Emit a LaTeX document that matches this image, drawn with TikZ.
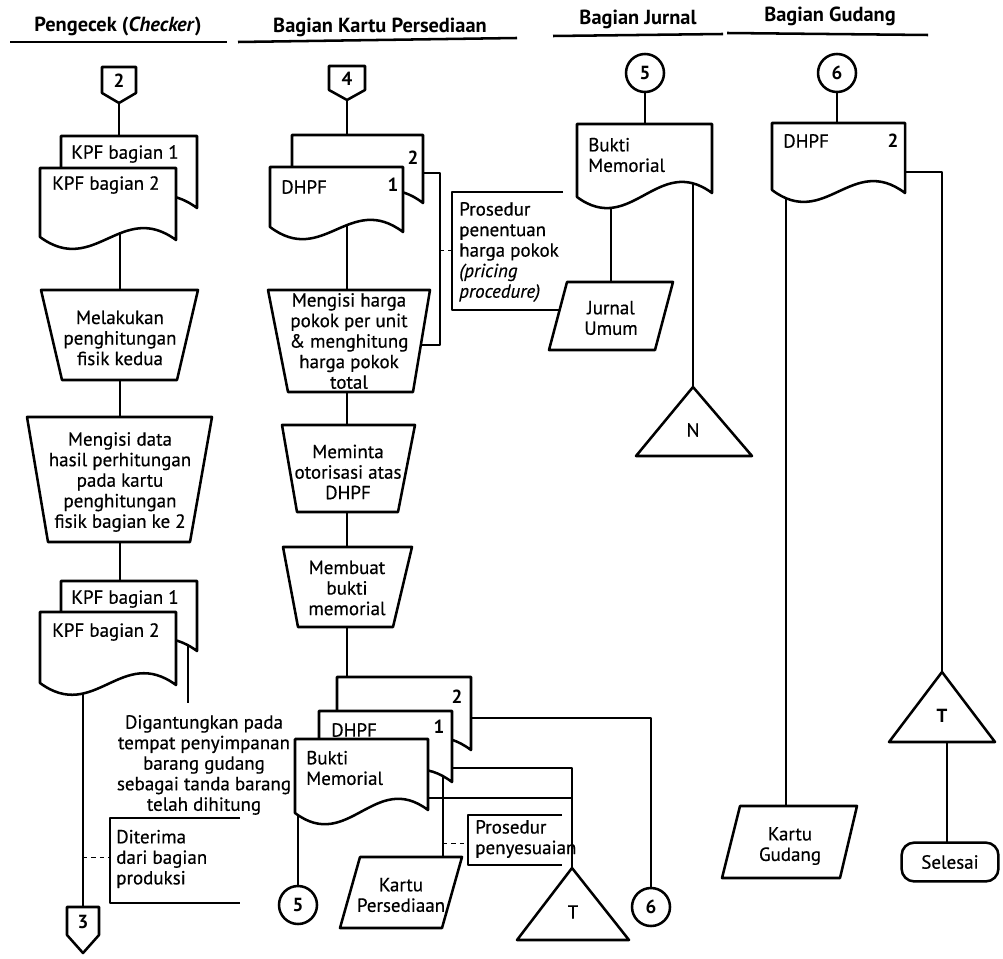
\documentclass[tikz,border=0pt]{standalone}
\usepackage{fontspec}
\setmainfont{PT Sans}[UprightFeatures={FakeBold=0.5},ItalicFeatures={FakeBold=0.5}]
\usetikzlibrary{calc}
% document symbol: #1 x-left, #2 x-right, #3 top, #4 bottom-left y, #5 bottom-right y
\newcommand\docshape[5]{%
  \draw[shp] (#1,#3) -- (#2,#3) -- (#2,#5)
    .. controls ({#1+0.6*(#2-#1)},{#5-40}) and ({#1+0.4*(#2-#1)},{#4+40}) .. (#1,#4) -- cycle;}
% manual operation (trapezoid): top x1,x2,y ; bottom x1,x2,y
\newcommand\trapshape[6]{%
  \draw[shp] (#1,#3) -- (#2,#3) -- (#5,#6) -- (#4,#6) -- cycle;}
\begin{document}
\begin{tikzpicture}[x=0.025cm,y=-0.025cm,line width=1.8pt,line join=round,
  shp/.style={draw,fill=white},
  txt/.style={font=\fontsize{13.5}{14.6}\selectfont,align=center,inner sep=0pt},
  ltxt/.style={txt,align=left,anchor=west},
  btxt/.style={txt,font=\fontsize{13.5}{14.6}\selectfont\bfseries},
  hdr/.style={font=\fontsize{14.5}{15}\selectfont\bfseries,inner sep=0pt},
  circ/.style={draw,circle,fill=white,minimum size=0.95cm,inner sep=0pt,
               font=\fontsize{13.5}{15}\selectfont\bfseries},
  term/.style={draw,fill=white,rounded corners=9pt,minimum width=2.42cm,
               minimum height=0.97cm,inner sep=0pt,font=\fontsize{13.5}{15}\selectfont},
  ann/.style={line width=1.4pt},
  dsh/.style={line width=0.7pt,dashed}]
\useasboundingbox (0,0) rectangle (1003,958);

% ---------------- headers ----------------
\node[hdr] (h1) at (118,26) {Pengecek (\textit{Checker})};
\node[hdr] (h2) at (380,27) {Bagian Kartu Persediaan};
\node[hdr] (h3) at (638,19) {Bagian Jurnal};
\node[hdr] (h4) at (830,16) {Bagian Gudang};
\draw (10,42) -- (227,42);
\draw (238,42) -- (517,38);
\draw (553,36) -- (723,34);
\draw (727,33) -- (928,35);

% ---------------- connectors (drawn first, shapes cover their ends) -------------
% column 1
\draw (119,100) -- (119,150);
\draw (120,230) -- (120,300);
\draw (120,370) -- (120,425);
\draw (120,535) -- (120,590);
\draw (188,640) -- (188,703);
\draw (83,680) -- (83,912);
\draw[dsh] (83,857) -- (110,857);
\draw[ann] (240,818) -- (110,818) -- (110,903) -- (240,903);
% column 2
\draw (347,98) -- (347,145);
\draw (347,220) -- (347,300);
\draw (410,173) -- (440,173) -- (440,345) -- (415,345);
\draw[dsh] (440,250) -- (452,250);
\draw[ann] (563,192) -- (452,192) -- (452,310) -- (566,310);
\draw (347,385) -- (347,432);
\draw (347,505) -- (347,555);
\draw (347,620) -- (347,690);
\draw (460,718) -- (651,718) -- (651,900);
\draw (445,768) -- (572,768) -- (572,880);
\draw (420,798) -- (572,798);
\draw (298,800) -- (298,895);
\draw (443,765) -- (443,865);
\draw[dsh] (443,843) -- (468,843);
\draw[ann] (562,815) -- (468,815) -- (468,865) -- (562,865);
% column 3
\draw (645,85) -- (645,135);
\draw (611,190) -- (611,290);
\draw (693,175) -- (693,395);
% column 4
\draw (837,85) -- (837,135);
\draw (786,185) -- (786,815);
\draw (895,172) -- (942,172) -- (942,680);
\draw (947,735) -- (947,850);

% ---------------- column 1 shapes ----------------
\draw[shp] (102,67) -- (136,67) -- (136,93) -- (119,103) -- (102,93) -- cycle;
\node[btxt] (op2) at (119,81) {2};
\docshape{61}{197}{136}{200}{208}
\docshape{40}{176}{168}{237}{240}
\node[txt] (kpf1a) at (125,154) {KPF bagian 1};
\node[ltxt] (kpf2a) at (51,185) {KPF bagian 2};
\trapshape{41}{198}{290}{62}{177}{380}
\node[txt] (hit) at (120,338) {Melakukan\\penghitungan\\fisik kedua};
\trapshape{27}{212}{417}{48}{190}{542}
\node[txt] (isi) at (120,482) {Mengisi data\\hasil perhitungan\\pada kartu\\penghitungan\\fisik bagian ke 2};
\docshape{61}{197}{581}{645}{651}
\docshape{40}{176}{612}{683}{685}
\node[txt] (kpf1b) at (125,599) {KPF bagian 1};
\node[ltxt] (kpf2b) at (51,632) {KPF bagian 2};
\node[txt] (gant) at (204,765) {Digantungkan pada\\tempat penyimpanan\\barang gudang\\sebagai tanda barang\\telah dihitung};
\node[ltxt] (dit) at (115,859) {Diterima\\dari bagian\\produksi};
\draw[shp] (67,907) -- (99,907) -- (99,935) -- (83,953) -- (67,935) -- cycle;
\node[btxt] (op3) at (83,922) {3};

% ---------------- column 2 shapes ----------------
\draw[shp] (329,66) -- (365,66) -- (365,90) -- (347,100) -- (329,90) -- cycle;
\node[btxt] (op4) at (347,79) {4};
\docshape{292}{423}{135}{195}{203}
\docshape{270}{403}{167}{227}{232}
\node[btxt] (d2n) at (413,158) {2};
\node[ltxt] (d1a) at (280,187) {DHPF};
\node[btxt] (d1n) at (393,185) {1};
\node[ltxt] (pric) at (458,252) {Prosedur\\penentuan\\harga pokok\\\textit{(pricing}\\\textit{procedure)}};
\trapshape{268}{430}{290}{288}{413}{392}
\node[txt] (isih) at (349,341) {Mengisi harga\\pokok per unit\\\& menghitung\\harga pokok\\total};
\trapshape{282}{415}{425}{297}{398}{512}
\node[txt] (oto) at (348,472) {Meminta\\otorisasi atas\\DHPF};
\trapshape{283}{412}{547}{298}{393}{627}
\node[txt] (buat) at (347,588) {Membuat\\bukti\\memorial};
\docshape{337}{471}{677}{742}{750}
\docshape{319}{452}{711}{775}{782}
\docshape{295}{428}{739}{813}{810}
\node[btxt] (s2n) at (457,697) {2};
\node[ltxt] (s1a) at (330,730) {DHPF};
\node[btxt] (s1n) at (439,727) {1};
\node[ltxt] (sbm) at (305,768) {Bukti\\Memorial};
\draw[shp] (360,857) -- (462,857) -- (442,928) -- (340,928) -- cycle;
\node[txt] (kp) at (401,895) {Kartu\\Persediaan};
\node[ltxt] (peny) at (474,839) {Prosedur\\penyesuaian};
\draw[shp] (572,868) -- (629,940) -- (517,940) -- cycle;
\node[txt] (tb) at (573,912) {T};
\node[circ] (c5b) at (298,905) {5};
\node[circ] (c6b) at (651,907) {6};

% ---------------- column 3 shapes ----------------
\node[circ] (c5a) at (645,73) {5};
\docshape{577}{712}{124}{197}{193}
\node[ltxt] (jbm) at (587,155) {Bukti\\Memorial};
\draw[shp] (567,282) -- (673,282) -- (655,350) -- (549,350) -- cycle;
\node[txt] (ju) at (611,318) {Jurnal\\Umum};
\draw[shp] (693,387) -- (752,456) -- (636,456) -- cycle;
\node[txt] (nn) at (693,430) {N};

% ---------------- column 4 shapes ----------------
\node[circ] (c6a) at (837,73) {6};
\docshape{772}{905}{123}{190}{193}
\node[ltxt] (gd) at (782,141) {DHPF};
\node[btxt] (gdn) at (893,141) {2};
\draw[shp] (942,672) -- (995,742) -- (889,742) -- cycle;
\node[btxt] (tg) at (942,716) {T};
\node[term] (sel) at (950,862) {Selesai};
\draw[shp] (740,806) -- (857,806) -- (840,878) -- (722,878) -- cycle;
\node[txt] (kg) at (790,846) {Kartu\\Gudang};
\end{tikzpicture}
\end{document}
